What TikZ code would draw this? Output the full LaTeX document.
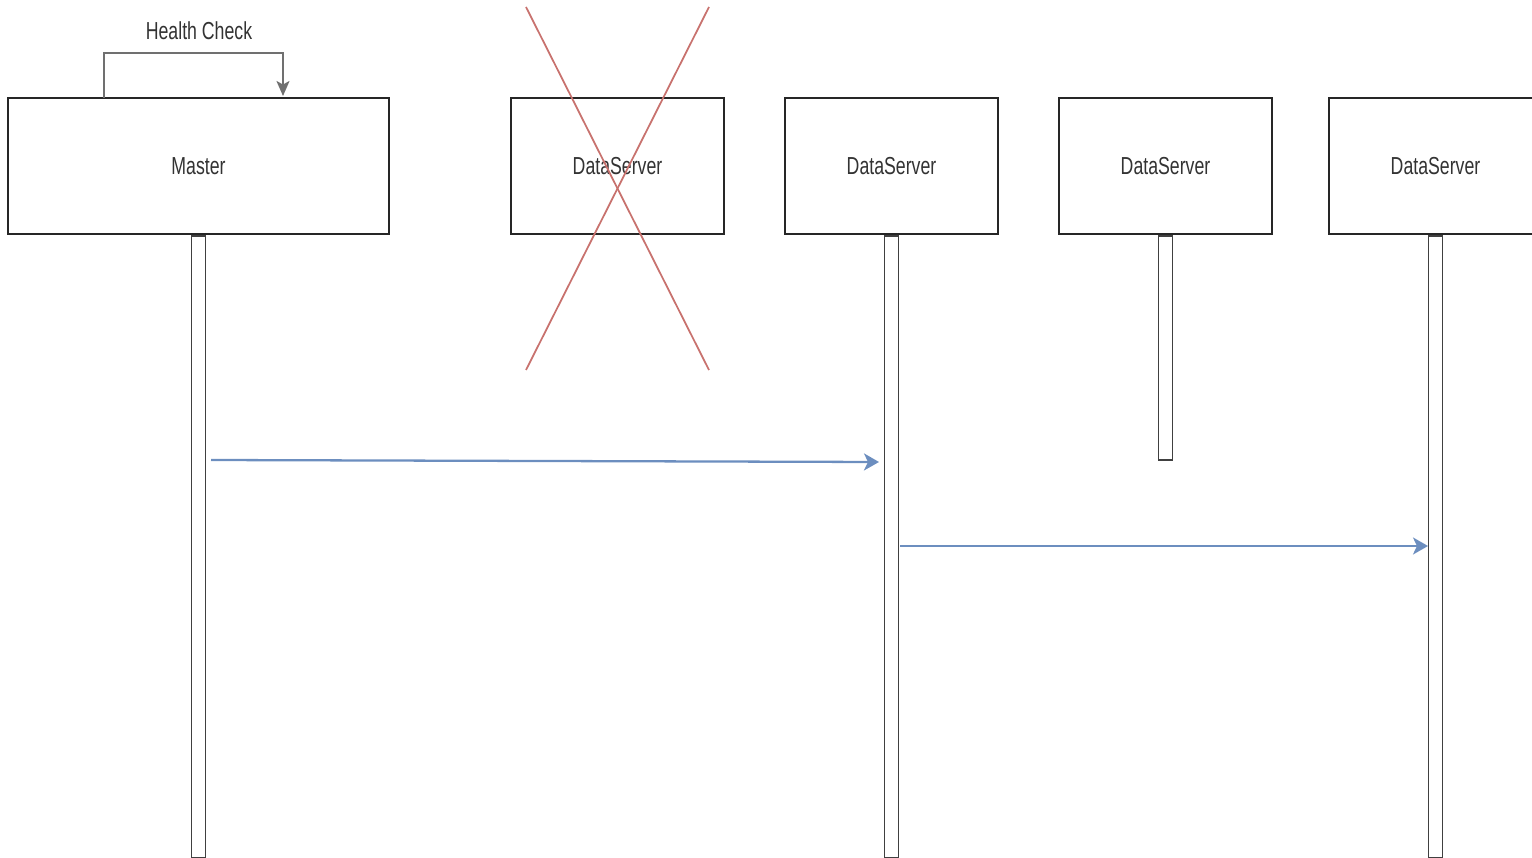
\documentclass[tikz,border=0pt]{standalone}
\usepackage{fontspec}
\setmainfont{Liberation Sans}
\usetikzlibrary{arrows.meta}

\definecolor{msgblue}{HTML}{6C8EBF}
\definecolor{crossred}{HTML}{C8726E}
\definecolor{loopgray}{HTML}{707070}
\definecolor{textgray}{HTML}{333333}

% narrow label text
\newcommand{\narrow}[1]{\scalebox{0.72}[1]{#1}}

\tikzset{
  lifebox/.style={draw=black!85, line width=1.2pt, fill=white, minimum height=2.72cm,
                  font=\fontsize{14}{16}\selectfont, text=textgray, inner sep=0pt},
  actbar/.style={draw=black!75, line width=1.1pt, fill=white, minimum width=0.28cm,
                 anchor=north, inner sep=0pt},
  msg/.style={draw=msgblue, line width=1.3pt, -{Stealth[length=0.3cm, width=0.34cm, inset=0.08cm]}},
}

\begin{document}
\begin{tikzpicture}[x=0.02cm, y=-0.02cm]
            \useasboundingbox (0,0) rectangle (1532,858);
            \clip (0,0) rectangle (1532,858);

            \node (master) at (198.5, 166) [lifebox, minimum width=7.62cm] {\narrow{Master}};
            \node (ds1) at (617.5, 166) [lifebox, minimum width=4.26cm] {\narrow{DataServer}};
            \node (ds2) at (891.5, 166) [lifebox, minimum width=4.26cm] {\narrow{DataServer}};
            \node (ds3) at (1165.5, 166) [lifebox, minimum width=4.26cm] {\narrow{DataServer}};
            \node (ds4) at (1435.5, 166) [lifebox, minimum width=4.26cm] {\narrow{DataServer}};

            % activation bars
            \node (mbar) at (master.south) [actbar, minimum height=12.44cm] {};
            \node (bar2) at (ds2.south) [actbar, minimum height=12.44cm] {};
            \node (bar3) at (ds3.south) [actbar, minimum height=4.48cm] {};
            \node (bar4) at (ds4.south) [actbar, minimum height=12.44cm] {};

            % health check loop
            \coordinate (hc1) at (104, 98);
            \coordinate (hc2) at (283, 96);
            \draw [draw=loopgray, line width=1.1pt, -{Stealth[length=0.3cm, width=0.26cm, inset=0.07cm]}]
                (hc1) -- (104, 53) -- (283, 53) -- (hc2);
            \node (hc) at (199, 31) [font=\fontsize{14}{16}\selectfont, text=textgray] {\narrow{Health Check}};

            % failed server
            \coordinate (x1) at (526, 7);
            \coordinate (x2) at (709, 370);
            \coordinate (x3) at (709, 7);
            \coordinate (x4) at (526, 370);
            \draw [crossred, line width=1pt] (x1) -- (x2);
            \draw [crossred, line width=1pt] (x3) -- (x4);

            % messages
            \coordinate (m1) at (211, 460);
            \coordinate (d1) at (879, 462);
            \coordinate (m2) at (900, 546);
            \coordinate (d2) at (1428, 546);
            \draw [msg] (m1) -- (d1);
            \draw [msg] (m2) -- (d2);

        \end{tikzpicture}
\end{document}
